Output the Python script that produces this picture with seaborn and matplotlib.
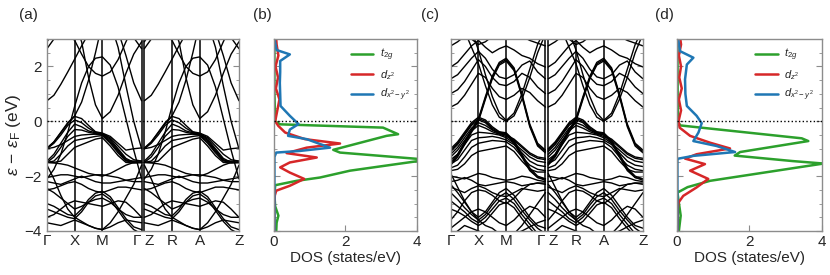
import matplotlib
matplotlib.use('Agg')
import matplotlib.pyplot as plt
import pandas as pd
import seaborn as sns

# k-path: Γ-X-M-Γ | Z-R-A-Z (values read at these k nodes, same for both halves)
k_half = [0, 0.25, 0.5, 0.75, 1.0, 1.25, 1.5, 1.75, 2.0, 2.283, 2.566, 2.849, 3.131, 3.414]
k_gap = 0.1
k_labels = ['Γ', 'X', 'M', 'Γ', 'Z', 'R', 'A', 'Z']
k_label_pos = [0, 1.0, 2.0, 3.414, 3.514, 4.514, 5.514, 6.928]

# band energies (eV) for panel (a)
bands_a = [
    [2.65, 3.0, 3.5, 3.6, 3.6, 3.6, 3.6, 3.6, 3.6, 3.6, 3.6, 3.5, 3.05, 2.65],
    [0.75, 0.95, 1.35, 1.8, 2.27, 2.75, 3.2, 3.6, 3.6, 3.6, 3.3, 2.4, 1.4, 0.75],
    [3.6, 3.6, 3.5, 3.2, 2.95, 2.45, 2.0, 1.75, 1.65, 1.8, 2.25, 2.9, 3.5, 3.6],
    [-2.1, -1.75, -1.2, -0.4, 0.55, 1.4, 2.0, 2.3, 2.35, 2.05, 1.25, 0.1, -1.05, -2.1],
    [2.9, 3.3, 3.6, 3.6, 3.6, 2.9, 1.6, 0.6, 0.1, 0.35, 0.95, 1.75, 2.45, 2.9],
    [-1.0, -0.75, -0.4, -0.05, 0.2, 0.7, 1.5, 2.5, 3.6, 3.6, 2.7, 1.3, 0.0, -1.0],
    [-0.97, -0.75, -0.42, -0.08, 0.18, 0.1, -0.15, -0.38, -0.43, -0.55, -0.8, -1.05, -1.0, -0.97],
    [-1.0, -0.8, -0.5, -0.15, 0.05, -0.05, -0.25, -0.4, -0.45, -0.6, -0.9, -1.2, -1.4, -1.45],
    [-1.45, -1.2, -0.8, -0.4, -0.1, -0.2, -0.35, -0.42, -0.45, -0.65, -1.0, -1.35, -1.5, -1.5],
    [-1.5, -1.3, -0.95, -0.55, -0.3, -0.32, -0.4, -0.45, -0.47, -0.7, -1.05, -1.4, -1.5, -1.5],
    [-1.0, -0.95, -0.85, -0.7, -0.55, -0.5, -0.48, -0.47, -0.5, -0.75, -1.1, -1.42, -1.45, -1.45],
    [-1.5, -1.45, -1.2, -0.9, -0.7, -0.65, -0.6, -0.55, -0.52, -0.8, -1.15, -1.45, -1.48, -1.5],
    [-1.5, -1.5, -1.45, -1.2, -0.95, -0.85, -0.75, -0.65, -0.6, -0.9, -1.25, -1.5, -1.52, -1.5],
    [-2.05, -2.0, -1.95, -1.95, -2.0, -2.05, -2.0, -1.95, -1.95, -2.0, -2.05, -2.15, -2.1, -2.05],
    [-2.2, -2.25, -2.3, -2.2, -2.1, -2.0, -2.1, -2.2, -2.25, -2.25, -2.2, -2.15, -2.2, -2.2],
    [-1.5, -1.52, -1.55, -1.6, -1.7, -1.8, -1.9, -1.95, -2.0, -1.9, -1.75, -1.6, -1.5, -1.5],
    [-3.0, -3.1, -3.25, -3.4, -3.45, -3.2, -2.85, -2.62, -2.55, -2.75, -3.15, -3.55, -3.85, -3.95],
    [-3.2, -3.3, -3.4, -3.5, -3.55, -3.3, -2.95, -2.72, -2.65, -2.85, -3.25, -3.65, -3.95, -4.1],
    [-1.6, -2.1, -2.7, -3.2, -3.5, -3.65, -3.8, -3.9, -3.95, -3.7, -3.3, -2.8, -2.3, -1.6],
    [-2.45, -2.6, -2.8, -3.0, -3.2, -3.1, -2.95, -2.85, -2.8, -2.95, -3.2, -3.4, -3.5, -3.5],
    [-3.5, -3.4, -3.2, -3.0, -2.9, -2.95, -3.0, -3.05, -3.1, -3.0, -2.9, -2.95, -3.2, -3.5],
    [-3.7, -3.75, -3.8, -3.7, -3.6, -3.7, -3.8, -3.9, -3.95, -3.85, -3.7, -3.6, -3.65, -3.7],
    [-2.5, -2.45, -2.35, -2.25, -2.2, -2.3, -2.45, -2.55, -2.6, -2.5, -2.4, -2.4, -2.45, -2.5],
]

# band energies (eV) for panel (c)
bands_c = [
    [3.0, 3.3, 3.6, 3.6, 3.6, 3.6, 3.6, 3.6, 3.6, 3.6, 3.6, 3.6, 3.3, 3.0],
    [2.75, 2.9, 3.1, 3.0, 2.8, 2.9, 3.1, 3.3, 3.4, 3.3, 3.1, 2.95, 2.85, 2.75],
    [1.98, 2.15, 2.45, 2.75, 2.95, 2.7, 2.5, 2.65, 2.75, 2.6, 2.4, 2.3, 2.1, 1.98],
    [1.55, 1.7, 2.0, 2.3, 2.55, 2.3, 1.9, 1.62, 1.55, 1.7, 2.05, 2.2, 1.8, 1.55],
    [1.01, 1.15, 1.45, 1.85, 2.25, 2.0, 1.6, 1.35, 1.3, 1.45, 1.75, 1.6, 1.25, 1.01],
    [0.52, 0.65, 0.95, 1.35, 1.75, 1.6, 1.2, 0.9, 0.8, 0.95, 1.2, 1.05, 0.75, 0.52],
    [-1.5, -1.2, -0.75, -0.3, 0.1, 0.9, 1.65, 2.15, 2.3, 1.95, 1.0, -0.1, -0.8, -1.05],
    [-1.55, -1.25, -0.8, -0.35, 0.05, 0.85, 1.6, 2.1, 2.25, 1.9, 0.95, -0.15, -0.85, -1.1],
    [-1.6, -1.3, -0.85, -0.4, 0.0, 0.8, 1.55, 2.05, 2.2, 1.85, 0.9, -0.2, -0.9, -1.15],
    [3.6, 3.6, 3.6, 3.3, 2.6, 1.7, 0.9, 0.3, 0.03, 0.3, 1.0, 1.9, 2.8, 3.4],
    [3.6, 3.6, 3.3, 2.7, 2.1, 1.3, 0.6, 0.15, 0.0, 0.2, 0.8, 1.6, 2.5, 3.2],
    [-1.0, -0.75, -0.4, -0.05, 0.15, 0.05, -0.2, -0.38, -0.42, -0.7, -1.2, -1.7, -2.0, -2.1],
    [-1.05, -0.8, -0.45, -0.1, 0.1, 0.0, -0.25, -0.4, -0.45, -0.75, -1.25, -1.75, -2.05, -2.15],
    [-1.1, -0.85, -0.5, -0.15, 0.05, -0.05, -0.3, -0.42, -0.48, -0.8, -1.3, -1.8, -2.05, -2.1],
    [-1.2, -0.95, -0.6, -0.25, -0.05, -0.15, -0.32, -0.45, -0.5, -0.65, -0.9, -1.15, -1.3, -1.35],
    [-1.3, -1.05, -0.7, -0.35, -0.15, -0.25, -0.38, -0.47, -0.55, -0.7, -0.95, -1.2, -1.35, -1.4],
    [-1.4, -1.2, -0.85, -0.5, -0.4, -0.42, -0.45, -0.5, -0.6, -0.8, -1.05, -1.3, -1.45, -1.5],
    [-1.55, -1.4, -1.05, -0.7, -0.6, -0.58, -0.55, -0.6, -0.68, -0.85, -1.15, -1.45, -1.6, -1.65],
    [-1.7, -1.6, -1.3, -0.95, -0.8, -0.75, -0.7, -0.72, -0.75, -0.95, -1.3, -1.6, -1.75, -1.8],
    [-1.8, -1.75, -1.55, -1.25, -1.1, -1.05, -1.0, -0.95, -0.9, -1.1, -1.45, -1.75, -1.85, -1.85],
    [-2.0, -2.05, -2.1, -2.0, -1.9, -1.95, -2.05, -2.1, -2.15, -2.1, -2.0, -2.05, -2.15, -2.2],
    [-2.2, -2.15, -2.05, -2.15, -2.3, -2.35, -2.3, -2.25, -2.2, -2.25, -2.35, -2.3, -2.25, -2.25],
    [-2.4, -2.5, -2.6, -2.45, -2.35, -2.45, -2.6, -2.7, -2.75, -2.6, -2.45, -2.5, -2.55, -2.5],
    [-2.3, -2.6, -2.95, -3.3, -3.5, -3.3, -2.95, -2.6, -2.45, -2.7, -3.1, -3.5, -3.8, -3.9],
    [-2.6, -2.85, -3.15, -3.4, -3.6, -3.4, -3.05, -2.75, -2.6, -2.85, -3.25, -3.6, -3.9, -4.1],
    [-2.9, -3.1, -3.3, -3.55, -3.7, -3.5, -3.2, -2.9, -2.8, -3.0, -3.4, -3.75, -4.1, -4.2],
    [-3.2, -3.3, -3.45, -3.65, -3.8, -3.65, -3.35, -3.05, -2.95, -3.15, -3.55, -3.9, -4.2, -4.3],
    [-1.9, -2.4, -2.9, -3.3, -3.6, -3.8, -3.9, -4.1, -4.2, -4.1, -3.8, -3.4, -3.0, -2.6],
    [-3.6, -3.3, -2.9, -2.6, -2.5, -2.55, -2.7, -2.9, -3.0, -2.8, -2.5, -2.3, -2.25, -2.3],
    [-3.9, -3.7, -3.5, -3.3, -3.2, -3.3, -3.5, -3.7, -3.8, -3.6, -3.3, -3.1, -3.2, -3.5],
    [-4.2, -4.0, -3.8, -3.9, -4.0, -4.1, -4.2, -4.2, -4.2, -4.1, -4.0, -3.85, -3.7, -3.6],
]

# DOS (states/eV) panel (b)
E_t2g_b = [-4.0, -3.7, -3.44, -3.1, -2.7, -2.33, -2.17, -2.05, -1.8, -1.68, -1.4, -1.14, -1.04, -0.53, -0.47, -0.23, -0.11, 0.0, 1.0, 2.0, 3.0]
t2g_b = [0.07, 0.08, 0.13, 0.04, 0.02, 0.04, 0.64, 1.29, 2.13, 2.78, 4.3, 1.85, 1.66, 3.15, 3.47, 3.05, 0.18, 0.04, 0.02, 0.02, 0.02]
E_z2_b = [-4.0, -3.0, -2.7, -2.53, -2.35, -2.1, -1.87, -1.68, -1.5, -1.32, -1.16, -0.96, -0.81, -0.65, -0.41, -0.17, 0.0, 0.4, 0.8, 1.2, 1.6, 2.0, 2.4, 2.8, 3.0]
z2_b = [0.02, 0.02, 0.03, 0.07, 0.45, 0.85, 0.45, 0.18, 0.45, 1.2, 0.36, 0.92, 1.85, 0.87, 0.32, 0.13, 0.04, 0.1, 0.16, 0.06, 0.12, 0.05, 0.13, 0.08, 0.07]
E_x2y2_b = [-4.0, -2.0, -1.3, -1.14, -1.08, -0.96, -0.65, -0.53, -0.3, -0.1, 0.2, 0.56, 1.0, 1.4, 1.8, 2.2, 2.44, 2.6, 3.0]
x2y2_b = [0.02, 0.02, 0.02, 0.07, 0.73, 1.57, 0.92, 0.4, 0.45, 0.69, 0.45, 0.19, 0.18, 0.17, 0.18, 0.18, 0.45, 0.08, 0.02]

# DOS (states/eV) panel (d)
E_t2g_d = [-4.0, -3.44, -2.6, -2.4, -2.17, -1.54, -1.45, -1.25, -1.12, -0.72, -0.62, -0.15, 0.0, 3.0]
t2g_d = [0.06, 0.11, 0.02, 0.3, 0.92, 4.05, 3.2, 1.6, 1.75, 3.63, 3.45, 0.1, 0.03, 0.02]
E_z2_d = [-4.0, -3.2, -2.96, -2.72, -2.41, -2.1, -1.8, -1.56, -1.36, -1.2, -0.99, -0.78, -0.53, -0.23, 0.0, 0.4, 0.8, 1.2, 1.6, 2.0, 2.4, 2.8, 3.0]
z2_d = [0.03, 0.03, 0.05, 0.18, 0.55, 0.87, 0.37, 0.78, 0.23, 0.55, 1.47, 0.92, 0.37, 0.08, 0.05, 0.12, 0.06, 0.14, 0.07, 0.12, 0.06, 0.12, 0.1]
E_x2y2_d = [-4.0, -1.4, -1.36, -1.26, -1.12, -0.9, -0.72, -0.41, -0.07, 0.2, 0.56, 1.0, 1.53, 2.07, 2.32, 2.56, 3.0]
x2y2_d = [0.02, 0.02, 0.05, 0.46, 1.61, 1.1, 0.46, 0.6, 0.69, 0.55, 0.28, 0.24, 0.23, 0.28, 0.46, 0.09, 0.04]

orbitals = [r'$t_{2g}$', r'$d_{z^2}$', r'$d_{x^2-y^2}$']
orb_colors = ['#2ca02c', '#d62728', '#1f77b4']

sns.set_style('ticks')
plt.rcParams['font.family'] = ['Liberation Sans', 'DejaVu Sans']
plt.rcParams['mathtext.fontset'] = 'custom'
plt.rcParams['mathtext.rm'] = 'Liberation Sans'
plt.rcParams['mathtext.it'] = 'Liberation Sans:italic'
plt.rcParams['font.size'] = 11


def bands_frame(bands):
    rows = []
    shift = k_half[-1] + k_gap
    for i, b in enumerate(bands):
        for half in range(2):
            for k, e in zip(k_half, b):
                rows.append({'k': k + half * shift, 'E': e, 'unit': f'{i}_{half}'})
    return pd.DataFrame(rows)


def dos_frame(Es, vals):
    rows = []
    for name, E, v in zip(orbitals, Es, vals):
        for e, d in zip(E, v):
            rows.append({'E': e, 'dos': d, 'orb': name})
    return pd.DataFrame(rows)


def style_axis(ax, left_labels=False):
    for s in ax.spines.values():
        s.set_color('0.55')
        s.set_linewidth(1.0)
    ax.set_ylim(-4, 3)
    ax.set_yticks([-4, -2, 0, 2])
    ax.set_yticks([-3.5, -3, -2.5, -1.5, -1, -0.5, 0.5, 1, 1.5, 2.5], minor=True)
    ax.tick_params(axis='y', which='both', direction='in', left=True, right=True,
                   color='0.55', labelleft=left_labels, labelsize=11)
    ax.tick_params(axis='y', which='major', length=4)
    ax.tick_params(axis='y', which='minor', length=2.5)
    ax.set_ylabel('')
    ax.axhline(0, color='k', ls=':', lw=1.0, zorder=5)


def plot_bands(ax, bands):
    df = bands_frame(bands)
    sns.lineplot(data=df, x='k', y='E', units='unit', estimator=None, color='k',
                 lw=1.0, ax=ax, legend=False)
    for kx in k_label_pos[1:-1]:
        ax.axvline(kx, color='k', lw=1.1)
    ax.set_xlim(k_label_pos[0], k_label_pos[-1])
    ax.set_xticks(k_label_pos)
    ax.set_xticklabels(k_labels)
    ax.tick_params(axis='x', length=0, pad=2, labelsize=11)
    # Γ|Z labels sit side by side
    ticklabels = ax.get_xticklabels()
    ticklabels[3].set_horizontalalignment('right')
    ticklabels[4].set_horizontalalignment('left')
    ax.set_xlabel('')


def plot_dos(ax, df):
    sns.lineplot(data=df, x='dos', y='E', hue='orb', palette=orb_colors, orient='y',
                 estimator=None, lw=1.8, ax=ax)
    ax.set_xlim(0, 4)
    ax.set_xticks([0, 2, 4])
    ax.tick_params(axis='x', direction='in', color='0.55', length=4, pad=3, labelsize=11)
    ax.set_xlabel('DOS (states/eV)', labelpad=1, fontsize=11)
    ax.legend(loc='upper right', frameon=False, fontsize=8, handlelength=2.0,
              labelspacing=0.45, borderaxespad=0.3, handletextpad=0.6)


fig = plt.figure(figsize=(8.3, 2.75), dpi=100)
ax_a = fig.add_axes([0.0566, 0.16, 0.2313, 0.698])
ax_b = fig.add_axes([0.3298, 0.16, 0.1727, 0.698])
ax_c = fig.add_axes([0.543, 0.16, 0.2317, 0.698])
ax_d = fig.add_axes([0.8153, 0.16, 0.1747, 0.698])

plot_bands(ax_a, bands_a)
plot_bands(ax_c, bands_c)
plot_dos(ax_b, dos_frame([E_t2g_b, E_z2_b, E_x2y2_b], [t2g_b, z2_b, x2y2_b]))
plot_dos(ax_d, dos_frame([E_t2g_d, E_z2_d, E_x2y2_d], [t2g_d, z2_d, x2y2_d]))

style_axis(ax_a, left_labels=True)
style_axis(ax_b)
style_axis(ax_c)
style_axis(ax_d)
ax_a.set_ylabel(r'$\varepsilon\,-\,\varepsilon_{\rm F}$ (eV)', fontsize=12.5, labelpad=1)

for lab, x in zip(['(a)', '(b)', '(c)', '(d)'], [0.034, 0.316, 0.518, 0.801]):
    fig.text(x, 0.945, lab, ha='center', va='center', fontsize=11)

fig.savefig('out.png', dpi=100)
